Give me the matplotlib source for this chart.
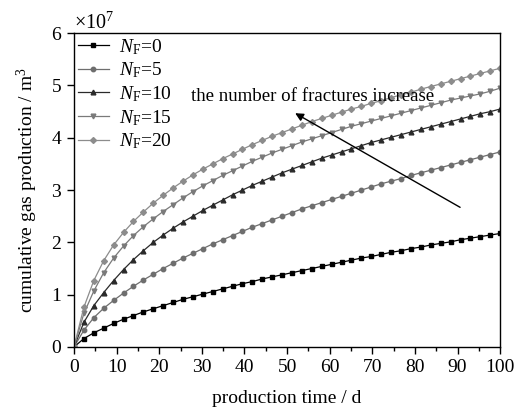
import matplotlib
matplotlib.use("Agg")
import matplotlib.pyplot as plt
from matplotlib.ticker import MultipleLocator
import numpy as np

plt.rcParams['font.family'] = ['Liberation Serif', 'DejaVu Serif']
plt.rcParams['mathtext.fontset'] = 'custom'
plt.rcParams['mathtext.rm'] = 'Liberation Serif'
plt.rcParams['mathtext.it'] = 'Liberation Serif:italic'

# production time (d), one sample every 100/43 days
days = np.linspace(0, 100, 44)

# cumulative gas production, units of 1e7 m^3
nf0 = [0, 0.16, 0.27, 0.36, 0.45, 0.53, 0.60, 0.67, 0.73, 0.79, 0.85, 0.91, 0.96, 1.01, 1.06,
       1.11, 1.16, 1.21, 1.25, 1.30, 1.34, 1.38, 1.42, 1.46, 1.50, 1.54, 1.58, 1.62, 1.66,
       1.70, 1.73, 1.77, 1.81, 1.84, 1.88, 1.91, 1.95, 1.98, 2.01, 2.05, 2.08, 2.11, 2.14, 2.17]
nf5 = [0, 0.32, 0.56, 0.74, 0.89, 1.03, 1.16, 1.28, 1.39, 1.50, 1.60, 1.70, 1.79, 1.88, 1.97,
       2.05, 2.13, 2.21, 2.29, 2.36, 2.43, 2.50, 2.57, 2.64, 2.70, 2.76, 2.82, 2.88, 2.94,
       3.00, 3.06, 3.12, 3.17, 3.22, 3.28, 3.33, 3.38, 3.43, 3.48, 3.53, 3.58, 3.63, 3.68, 3.73]
nf10 = [0, 0.47, 0.79, 1.04, 1.27, 1.48, 1.67, 1.84, 2.00, 2.14, 2.27, 2.39, 2.50, 2.61, 2.71,
        2.81, 2.91, 3.00, 3.09, 3.17, 3.25, 3.33, 3.40, 3.47, 3.54, 3.61, 3.67, 3.73, 3.79,
        3.85, 3.91, 3.96, 4.01, 4.06, 4.11, 4.16, 4.21, 4.26, 4.31, 4.36, 4.41, 4.46, 4.50, 4.55]
nf15 = [0, 0.64, 1.07, 1.42, 1.70, 1.93, 2.13, 2.30, 2.45, 2.59, 2.72, 2.85, 2.97, 3.08, 3.18,
        3.28, 3.37, 3.46, 3.55, 3.63, 3.71, 3.78, 3.85, 3.92, 3.98, 4.04, 4.10, 4.16, 4.22,
        4.27, 4.32, 4.37, 4.42, 4.47, 4.52, 4.57, 4.62, 4.67, 4.72, 4.76, 4.80, 4.84, 4.89, 4.95]
nf20 = [0, 0.76, 1.27, 1.65, 1.95, 2.19, 2.40, 2.58, 2.75, 2.90, 3.04, 3.17, 3.29, 3.40, 3.50,
        3.60, 3.69, 3.78, 3.87, 3.95, 4.03, 4.10, 4.17, 4.24, 4.31, 4.37, 4.43, 4.49, 4.55,
        4.60, 4.66, 4.71, 4.77, 4.82, 4.87, 4.93, 4.98, 5.03, 5.08, 5.13, 5.18, 5.23, 5.28, 5.33]

series = [
    (nf0, '0', '#000000', 's', 2.8),
    (nf5, '5', '#6e6e6e', 'o', 3.2),
    (nf10, '10', '#2a2a2a', '^', 3.4),
    (nf15, '15', '#7a7a7a', 'v', 3.4),
    (nf20, '20', '#8c8c8c', 'D', 3.0),
]

fig = plt.figure(figsize=(5.21, 4.15), dpi=100)
ax = fig.add_axes([0.142, 0.164, 0.818, 0.756])

for vals, nf, col, mk, ms in series:
    ax.plot(days, np.array(vals) * 1e7, color=col, lw=0.9, marker=mk, ms=ms,
            label=r'$N_{\mathrm{F}}$=' + nf)

ax.set_xlim(0, 100)
ax.set_ylim(0, 6e7)
ax.xaxis.set_major_locator(MultipleLocator(10))
ax.xaxis.set_minor_locator(MultipleLocator(5))
ax.yaxis.set_major_locator(MultipleLocator(1e7))
ax.ticklabel_format(axis='y', style='sci', scilimits=(7, 7), useMathText=True)
ax.yaxis.get_offset_text().set_fontsize(14.5)
ax.tick_params(which='both', direction='out', top=False, right=False, labelsize=14)
ax.tick_params(which='major', length=5, width=1)
ax.tick_params(which='minor', length=3, width=1)
for s in ax.spines.values():
    s.set_linewidth(1.0)

ax.set_xlabel('production time / d', fontsize=14, labelpad=10)
ax.set_ylabel('cumulative gas production / m$^3$', fontsize=14, labelpad=8)

ax.legend(loc='upper left', frameon=False, fontsize=14, handlelength=1.6,
          labelspacing=0.2, borderaxespad=0.0, borderpad=0.2, handletextpad=0.5)

ax.text(27.5, 4.78e7, 'the number of fractures increase', fontsize=13.6, va='center')
ax.annotate('', xy=(51.9, 4.47e7), xytext=(90.6, 2.67e7),
            arrowprops=dict(arrowstyle='-|>', color='black', lw=1.0,
                            mutation_scale=12, shrinkA=0, shrinkB=0))

fig.savefig('out.png', dpi=100)
